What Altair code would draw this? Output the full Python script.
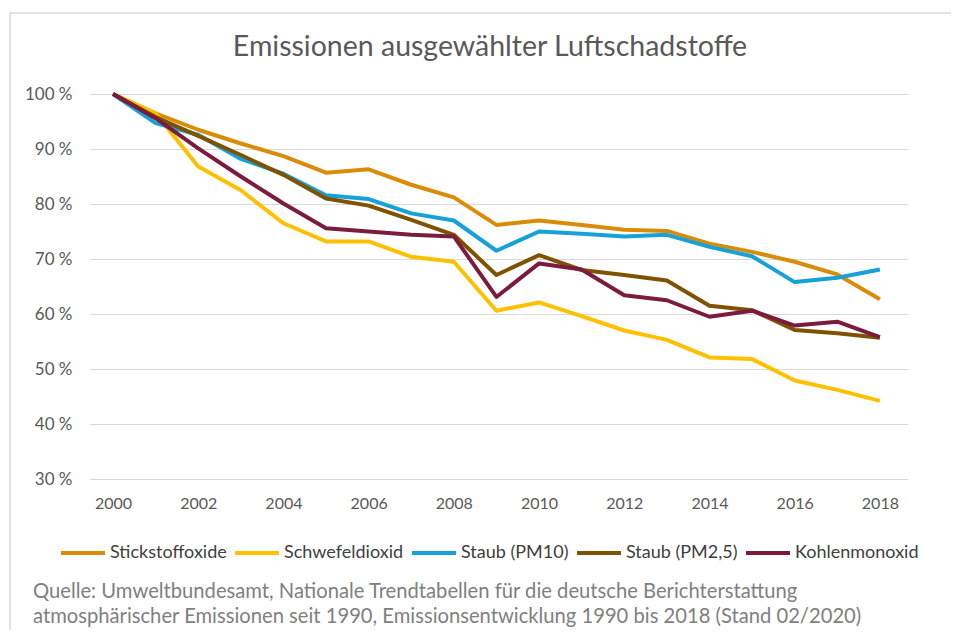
import altair as alt
import pandas as pd

years = list(range(2000, 2019))
stickstoffoxide = [100, 96.5, 93.5, 91.0, 88.7, 85.7, 86.3, 83.5, 81.2, 76.2, 77.0, 76.2, 75.3, 75.1, 72.8, 71.3, 69.5, 67.2, 62.7]
schwefeldioxid = [100, 96.5, 86.8, 82.5, 76.5, 73.2, 73.2, 70.4, 69.5, 60.6, 62.1, 59.6, 57.0, 55.3, 52.1, 51.8, 47.9, 46.2, 44.2]
staub_pm10 = [100, 94.7, 92.6, 88.2, 85.5, 81.6, 80.9, 78.3, 77.0, 71.5, 75.0, 74.6, 74.1, 74.4, 72.2, 70.5, 65.8, 66.6, 68.1]
staub_pm25 = [100, 95.8, 92.4, 88.9, 85.3, 81.0, 79.7, 77.1, 74.4, 67.1, 70.7, 68.0, 67.1, 66.1, 61.5, 60.7, 57.1, 56.5, 55.7]
kohlenmonoxid = [100, 95.6, 90.1, 85.0, 80.1, 75.6, 75.0, 74.4, 74.1, 63.1, 69.2, 68.1, 63.4, 62.5, 59.5, 60.6, 57.9, 58.6, 55.8]

series_names = ["Stickstoffoxide", "Schwefeldioxid", "Staub (PM10)", "Staub (PM2,5)", "Kohlenmonoxid"]
series_colors = ["#D98C08", "#FFC000", "#16A2D8", "#7F5200", "#7B1C3E"]
x_ticks = list(range(2000, 2019, 2))
y_ticks = [30, 40, 50, 60, 70, 80, 90, 100]

title_text = "Emissionen ausgewählter Luftschadstoffe"
caption_lines = [
    "Quelle: Umweltbundesamt,  Nationale Trendtabellen für die deutsche  Berichterstattung",
    "atmosphärischer Emissionen seit 1990, Emissionsentwicklung 1990 bis 2018 (Stand 02/2020)",
]

rows = []
for name, vals in zip(series_names, [stickstoffoxide, schwefeldioxid, staub_pm10, staub_pm25, kohlenmonoxid]):
    for yr, v in zip(years, vals):
        rows.append({"Jahr": yr, "Wert": v, "Stoff": name, "ord": series_names.index(name)})
df = pd.DataFrame(rows)

FONT = "Lato"
GRAY = "#595959"

lines = alt.Chart(df).mark_line(strokeWidth=4, strokeJoin="round").encode(
    x=alt.X("Jahr:Q",
            scale=alt.Scale(domain=[1999.46, 2018.66], nice=False, zero=False),
            axis=alt.Axis(values=x_ticks, format="d", title=None, grid=False, ticks=False,
                          domain=False, labelPadding=16, labelFontSize=16, labelColor=GRAY,
                          labelFont=FONT)),
    y=alt.Y("Wert:Q",
            scale=alt.Scale(domain=[30, 100], nice=False, zero=False),
            axis=alt.Axis(values=y_ticks, title=None, ticks=False, domain=False,
                          labelExpr="datum.value + ' %'", labelPadding=18, labelFontSize=17,
                          labelColor=GRAY, labelFont=FONT, gridColor="#D9D9D9", gridWidth=1)),
    color=alt.Color("Stoff:N",
                    scale=alt.Scale(domain=series_names, range=series_colors),
                    sort=series_names,
                    legend=alt.Legend(title=None, orient="none", direction="horizontal",
                                      legendX=-31, legendY=435, symbolType="stroke",
                                      symbolSize=1936, symbolStrokeWidth=4, labelOffset=3,
                                      columnPadding=0, labelFontSize=18, labelColor="#404040",
                                      labelFont=FONT, labelLimit=300)),
    order=alt.Order("ord:Q"),
    detail="Stoff:N",
)

one = pd.DataFrame({"k": [0]})
frame = alt.Chart(one).mark_rect(fill=None, stroke="#D9D9D9", strokeWidth=1.5).encode(
    x=alt.value(-80), y=alt.value(-81), x2=alt.value(900), y2=alt.value(560)
)
title = alt.Chart(one).mark_text(align="center", baseline="middle", fontSize=28.5,
                                 font=FONT, color=GRAY).encode(
    x=alt.value(400), y=alt.value(-47), text=alt.value(title_text)
)
caption = alt.Chart(one).mark_text(align="left", baseline="middle", fontSize=20.2,
                                   font=FONT, color="#808080", lineHeight=25).encode(
    x=alt.value(-57), y=alt.value(498), text=alt.value(caption_lines)
)

chart = alt.layer(frame, lines, title, caption).properties(
    width=818, height=385,
    autosize=alt.AutoSizeParams(type="none"),
    padding={"left": 82, "top": 86, "right": 43, "bottom": 151},
).configure_view(stroke=None)

chart.save("out.html", embed_options={"renderer": "svg", "actions": False})
